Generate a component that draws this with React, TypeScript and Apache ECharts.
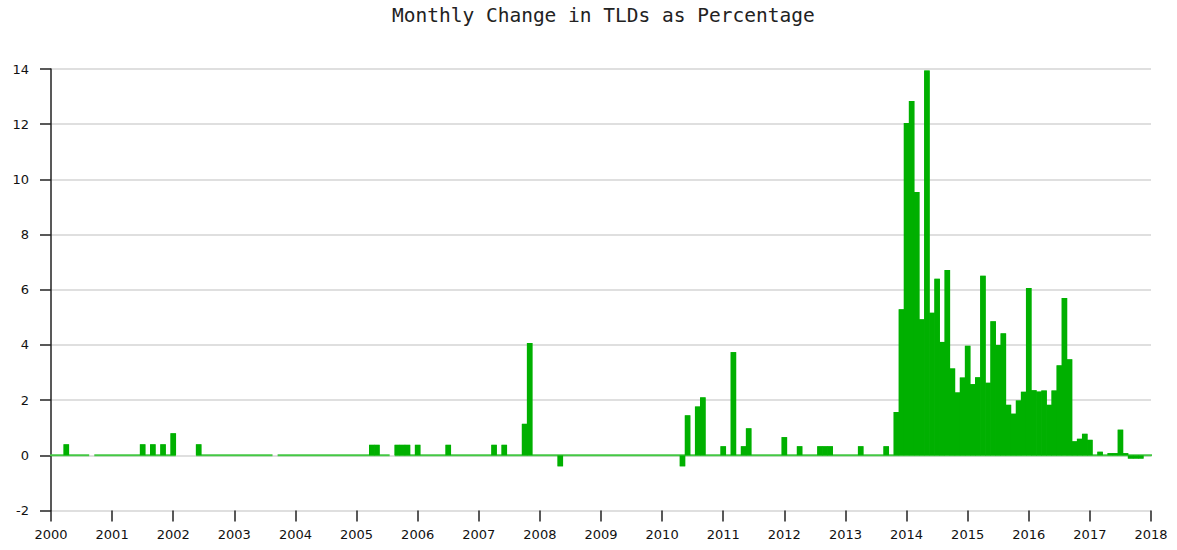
import React, { useEffect, useRef } from "react";
import * as echarts from "echarts";

// Monthly change in number of TLDs (%), only months with a non-zero change
const changeMonths = [
  "2000-04", "2001-07", "2001-09", "2001-11", "2002-01", "2002-06",
  "2005-04", "2005-05", "2005-09", "2005-10", "2005-11", "2006-01", "2006-07",
  "2007-04", "2007-06", "2007-10", "2007-11", "2008-05",
  "2010-05", "2010-06", "2010-08", "2010-09",
  "2011-01", "2011-03", "2011-05", "2011-06",
  "2012-01", "2012-04", "2012-08", "2012-09", "2012-10",
  "2013-04", "2013-09", "2013-11", "2013-12",
  "2014-01", "2014-02", "2014-03", "2014-04", "2014-05", "2014-06",
  "2014-07", "2014-08", "2014-09", "2014-10", "2014-11", "2014-12",
  "2015-01", "2015-02", "2015-03", "2015-04", "2015-05", "2015-06",
  "2015-07", "2015-08", "2015-09", "2015-10", "2015-11", "2015-12",
  "2016-01", "2016-02", "2016-03", "2016-04", "2016-05", "2016-06",
  "2016-07", "2016-08", "2016-09", "2016-10", "2016-11", "2016-12",
  "2017-01", "2017-03", "2017-05", "2017-06", "2017-07", "2017-08",
  "2017-09", "2017-10", "2017-11",
];
const changeValues = [
  0.40, 0.40, 0.40, 0.40, 0.80, 0.40,
  0.38, 0.38, 0.38, 0.38, 0.38, 0.38, 0.38,
  0.38, 0.38, 1.14, 4.07, -0.40,
  -0.40, 1.45, 1.77, 2.10,
  0.33, 3.74, 0.33, 0.98,
  0.66, 0.33, 0.33, 0.33, 0.33,
  0.33, 0.33, 1.57, 5.29,
  12.04, 12.84, 9.54, 4.93, 13.95, 5.17,
  6.40, 4.11, 6.72, 3.15, 2.28, 2.82,
  3.97, 2.58, 2.83, 6.51, 2.63, 4.86,
  4.00, 4.42, 1.83, 1.51, 1.99, 2.30,
  6.06, 2.36, 2.31, 2.35, 1.83, 2.35,
  3.26, 5.70, 3.48, 0.51, 0.60, 0.78,
  0.56, 0.13, 0.08, 0.08, 0.93, 0.08,
  -0.12, -0.12, -0.12,
];
// Data range and months without data
const firstMonth = "2000-01";
const lastMonth = "2018-01";
const missingMonths = ["2000-09", "2002-02", "2002-03", "2002-04", "2002-05", "2003-09", "2005-08"];

const yearTicks = [2000, 2018];
const yTicks = [-2, 14];

const TITLE = "Monthly Change in TLDs as Percentage";

const toIndex = (s: string) => {
  const [y, m] = s.split("-").map(Number);
  return (y - 2000) * 12 + (m - 1);
};
const idxToX = (i: number) => 2000 + i / 12;

export default function App() {
  const ref = useRef<HTMLDivElement>(null);
  useEffect(() => {
    document.body.style.margin = "0";
    const chart = echarts.init(ref.current!, undefined, { renderer: "svg" });

    const bars = changeMonths.map((s, i) => [idxToX(toIndex(s)), changeValues[i]]);

    // zero baseline segments over months that have data
    const missing = new Set(missingMonths.map(toIndex));
    const a = toIndex(firstMonth);
    const b = toIndex(lastMonth);
    const zeroLine: any[] = [];
    let runStart = -1;
    for (let i = a; i <= b + 1; i++) {
      const present = i <= b && !missing.has(i);
      if (present && runStart < 0) runStart = i;
      if (!present && runStart >= 0) {
        zeroLine.push([idxToX(runStart) - 1 / 24, 0]);
        zeroLine.push([idxToX(i - 1) + 1 / 24, 0]);
        zeroLine.push([idxToX(i - 1) + 1 / 24, null]);
        runStart = -1;
      }
    }

    const labelFont = { fontFamily: "DejaVu Sans", fontSize: 13, color: "#111" };
    const xBase = {
      type: "value",
      min: yearTicks[0],
      max: yearTicks[1],
      interval: 1,
      splitLine: { show: false },
    };

    chart.setOption({
      animation: false,
      title: {
        text: TITLE,
        left: 392,
        top: 5,
        padding: 0,
        textStyle: {
          fontFamily: "DejaVu Sans Mono",
          fontSize: 19.5,
          fontWeight: "normal",
          color: "#222",
        },
      },
      grid: { left: 51, right: 26, top: 69, bottom: 39.5 },
      xAxis: [
        {
          ...xBase,
          axisLine: { show: false, onZero: false },
          axisTick: { show: true, length: 11, lineStyle: { color: "#222", width: 1.5 } },
          axisLabel: { ...labelFont, margin: 17, formatter: (v: number) => String(v) },
        },
        {
          ...xBase,
          position: "bottom",
          show: false,
          axisLine: { show: false, onZero: false },
        },
      ],
      yAxis: {
        type: "value",
        min: yTicks[0],
        max: yTicks[1],
        interval: 2,
        axisLine: { show: true, lineStyle: { color: "#222", width: 1.5 } },
        axisTick: { show: true, length: 11, lineStyle: { color: "#222", width: 1.5 } },
        axisLabel: { ...labelFont, margin: 22 },
        splitLine: { show: true, lineStyle: { color: "#d4d4d4", width: 1.5 } },
      },
      series: [
        {
          type: "line",
          data: zeroLine,
          xAxisIndex: 0,
          connectNulls: false,
          showSymbol: false,
          symbol: "none",
          lineStyle: { color: "#44c844", width: 2 },
          z: 2,
          silent: true,
        },
        {
          type: "bar",
          data: bars,
          xAxisIndex: 0,
          barWidth: 5.1,
          itemStyle: { color: "#00b000", borderColor: "#5ccf5c", borderWidth: 2 },
          z: 3,
          silent: true,
        },
        {
          type: "bar",
          data: bars,
          xAxisIndex: 1,
          barWidth: 5.7,
          itemStyle: { color: "#00b000", borderWidth: 0 },
          z: 4,
          silent: true,
        },
      ],
    });
    return () => chart.dispose();
  }, []);
  return <div ref={ref} style={{ width: 1177, height: 550 }} />;
}
